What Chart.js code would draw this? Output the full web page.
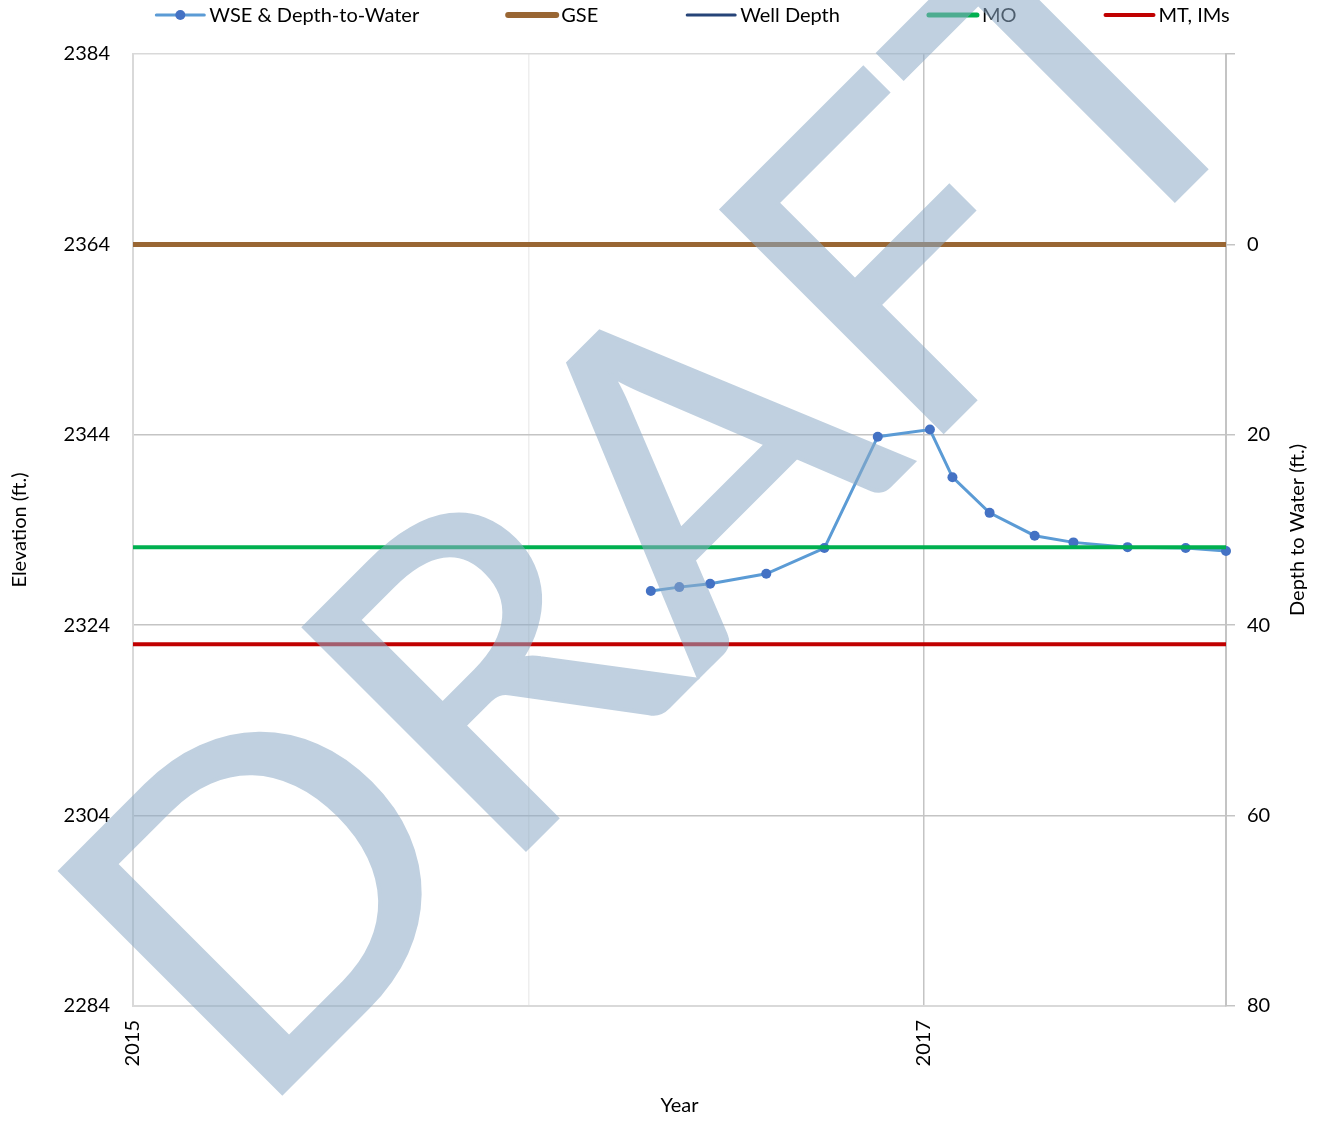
<!DOCTYPE html>
<html>
<head>
<meta charset="utf-8">
<script src="https://cdn.jsdelivr.net/npm/chart.js@4.4.1/dist/chart.umd.min.js"></script>
<style>
  html, body { margin: 0; padding: 0; background: #fff; }
  #wrap { width: 1323px; height: 1122px; position: relative; }
</style>
</head>
<body>
<div id="wrap"><canvas id="wellChart"></canvas></div>
<script>
// measurement dates (decimal years) and water surface elevation (ft)
const dates = [2016.31, 2016.382, 2016.46, 2016.602, 2016.749, 2016.884, 2017.016, 2017.073, 2017.167, 2017.281, 2017.379, 2017.516, 2017.663, 2017.765];
const wseElev = [2327.6, 2328.0, 2328.35, 2329.4, 2332.1, 2343.8, 2344.55, 2339.55, 2335.8, 2333.4, 2332.7, 2332.2, 2332.1, 2331.8];
const gseElev = 2364;
const moElev = 2332.2;
const mtElev = 2322.0;
const wellDepth = []; // below the plotted range
const xRange = [2015, 2017.765];
const yearTicks = [2015, 2016, 2017];
const yearLabels = [2015, 2017];
const elevRange = [2284, 2384];
const depthRange = [-20, 80];
const seriesNames = ["WSE & Depth-to-Water", "GSE", "Well Depth", "MO", "MT, IMs"];

const FONT = "Lato";
Chart.defaults.font.family = FONT;
Chart.defaults.font.size = 20;
Chart.defaults.color = "#000";

const flat = (v) => xRange.map((x) => ({ x, y: v }));

// legend, right axis title and the DRAFT watermark
const decor = {
  id: "decor",
  afterDraw(chart) {
    const ctx = chart.ctx;
    ctx.save();
    ctx.font = "20px " + FONT;
    ctx.fillStyle = "#000";
    ctx.textBaseline = "middle";
    const symW = 52, gap = 3, pad = 87, ly = 15;
    const widths = seriesNames.map((n) => symW + gap + ctx.measureText(n).width);
    const total = widths.reduce((a, b) => a + b, 0) + pad * (widths.length - 1);
    let x = 692 - total / 2;
    seriesNames.forEach((name, i) => {
      const ds = chart.data.datasets[i];
      ctx.strokeStyle = ds.borderColor;
      ctx.lineWidth = ds.legendWidth;
      ctx.lineCap = "round";
      ctx.beginPath();
      ctx.moveTo(x + 2, ly);
      ctx.lineTo(x + symW - 2, ly);
      ctx.stroke();
      if (ds.pointRadius) {
        ctx.fillStyle = ds.pointBackgroundColor;
        ctx.beginPath();
        ctx.arc(x + symW / 2, ly, 5, 0, Math.PI * 2);
        ctx.fill();
      }
      ctx.fillStyle = "#000";
      ctx.textAlign = "left";
      ctx.fillText(name, x + symW + gap, ly + 1);
      x += widths[i] + pad;
    });

    // right axis title, reading upward
    const area = chart.chartArea;
    ctx.translate(1298, (area.top + area.bottom) / 2);
    ctx.rotate(-Math.PI / 2);
    ctx.textAlign = "center";
    ctx.fillText("Depth to Water (ft.)", 0, 0);
    ctx.restore();

    // watermark: drawn opaque off-screen, then laid over with transparency
    const off = document.createElement("canvas");
    off.width = chart.width;
    off.height = chart.height;
    const o = off.getContext("2d");
    o.translate(278, 1100);
    o.rotate(-Math.PI / 4);
    o.font = "438px " + FONT;
    o.textBaseline = "alphabetic";
    const mD = o.measureText("D");
    const tCenter = o.measureText("DRAF").width + o.measureText("T").width / 2 + mD.actualBoundingBoxLeft;
    o.scale(1290 / tCenter, 1);
    o.fillStyle = o.strokeStyle = "rgb(140,170,198)";
    o.lineWidth = 4;
    o.lineJoin = "miter";
    o.fillText("DRAFT", mD.actualBoundingBoxLeft + 2, -2);
    o.strokeText("DRAFT", mD.actualBoundingBoxLeft + 2, -2);
    ctx.save();
    ctx.globalAlpha = 0.55;
    ctx.drawImage(off, 0, 0, chart.width, chart.height);
    ctx.restore();
  },
};

new Chart(document.getElementById("wellChart"), {
  type: "line",
  data: {
    datasets: [
      {
        label: seriesNames[0],
        data: dates.map((d, i) => ({ x: d, y: wseElev[i] })),
        borderColor: "#5B9BD5",
        borderWidth: 3,
        legendWidth: 3,
        pointRadius: 5,
        pointBackgroundColor: "#4472C4",
        pointBorderColor: "#4472C4",
        pointBorderWidth: 0,
        clip: false,
        order: 3,
      },
      { label: seriesNames[1], data: flat(gseElev), borderColor: "#996633", borderWidth: 5, legendWidth: 6, pointRadius: 0, order: 2 },
      { label: seriesNames[2], data: wellDepth, borderColor: "#264478", borderWidth: 3, legendWidth: 3, pointRadius: 0, order: 2 },
      { label: seriesNames[3], data: flat(moElev), borderColor: "#00B050", borderWidth: 4, legendWidth: 5, pointRadius: 0, order: 1 },
      { label: seriesNames[4], data: flat(mtElev), borderColor: "#C00000", borderWidth: 4, legendWidth: 4, pointRadius: 0, order: 1 },
    ],
  },
  options: {
    responsive: true,
    maintainAspectRatio: false,
    animation: false,
    layout: { padding: { top: 54, left: 0, right: 0, bottom: 0 } },
    plugins: { legend: { display: false }, tooltip: { enabled: false } },
    scales: {
      x: {
        type: "linear",
        min: xRange[0],
        max: xRange[1],
        afterBuildTicks: (s) => { s.ticks = yearTicks.map((v) => ({ value: v })); },
        afterFit: (s) => { s.height = 116; },
        ticks: {
          minRotation: 90,
          maxRotation: 90,
          padding: 14,
          autoSkip: false,
          callback: (v) => (yearLabels.includes(v) ? String(v) : ""),
        },
        grid: {
          drawTicks: false,
          color: (c) => (c.tick && c.tick.value === 2016 ? "#EEEEEE" : "#C4C4C4"),
          lineWidth: 1.5,
        },
        border: { color: "#D9D9D9", width: 2 },
        title: { display: true, text: "Year", padding: { top: 0, bottom: 4 } },
      },
      y: {
        position: "left",
        min: elevRange[0],
        max: elevRange[1],
        afterFit: (s) => { s.width = 133; },
        ticks: { stepSize: 20, padding: 23, callback: (v) => String(v) },
        grid: {
          drawTicks: false,
          color: (c) => (c.tick && (c.tick.value === elevRange[0] || c.tick.value === elevRange[1]) ? "#D9D9D9" : "#C4C4C4"),
          lineWidth: 1.5,
        },
        border: { color: "#D9D9D9", width: 2 },
        title: { display: true, text: "Elevation (ft.)", padding: { top: 8, bottom: 0 } },
      },
      y2: {
        position: "right",
        min: depthRange[0],
        max: depthRange[1],
        reverse: true,
        afterFit: (s) => { s.width = 97; },
        ticks: { stepSize: 20, padding: 12, callback: (v) => (v < 0 ? "" : String(v)) },
        grid: { drawOnChartArea: false, drawTicks: true, tickLength: 9, color: "#C4C4C4", lineWidth: 1.5 },
        border: { color: "#C4C4C4", width: 2 },
      },
    },
  },
  plugins: [decor],
});
</script>
</body>
</html>
